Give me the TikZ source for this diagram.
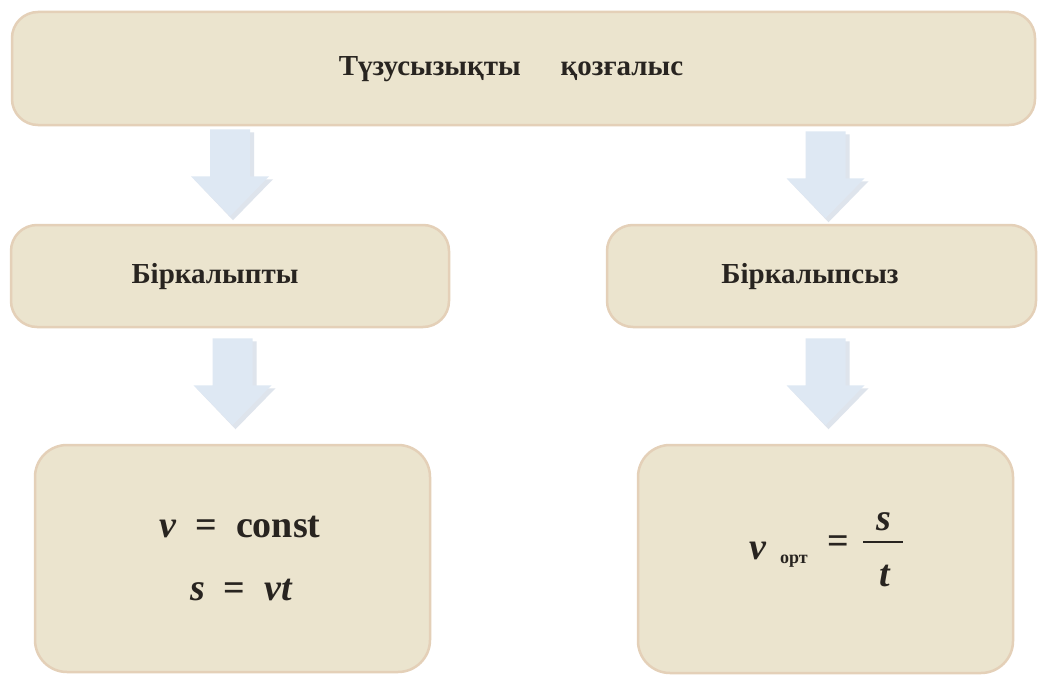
\documentclass[tikz,border=0pt]{standalone}
\usepackage{fontspec}
\setmainfont{Liberation Serif}
\usetikzlibrary{calc}
\definecolor{boxfill}{RGB}{235,228,206}
\definecolor{boxdraw}{RGB}{228,208,184}
\definecolor{arrowfill}{RGB}{222,232,243}
\definecolor{arrowshade}{RGB}{200,210,224}
\definecolor{txt}{RGB}{40,36,32}
\tikzset{
  box/.style={draw=boxdraw, line width=2.5pt, fill=boxfill, rounded corners=26pt, text=txt, inner sep=0pt},
  lbl/.style={font=\fontsize{29}{33}\selectfont\bfseries, text=txt},
  formula/.style={font=\fontsize{38}{44}\selectfont\bfseries, text=txt, inner sep=0pt},
  sub/.style={font=\fontsize{18}{20}\selectfont\bfseries, text=txt, inner sep=0pt},
  downarrow/.pic={
    \fill[arrowshade, opacity=0.6] (-17,3) -- (24,3) -- (24,50) -- (43,50) -- (3,91) -- (-36,50) -- (-17,50) -- cycle;
    \fill[arrowfill] (-20,0) -- (20,0) -- (20,47) -- (39,47) -- (0,87) -- (-39,47) -- (-20,47) -- cycle;
  }
}
\begin{document}
\begin{tikzpicture}[x=1pt, y=-1pt]
\useasboundingbox[fill=white] (0,0) rectangle (1038,677);
% boxes
\node[box, minimum width=1023pt, minimum height=113pt] (top) at (523.5,68.5) {};
\node[lbl] (toptext) at (511,69) {Түзусызықты\hspace{40pt}қозғалыс};
\node[box, minimum width=438pt, minimum height=102pt] (mL) at (230,276) {};
\node[lbl] (mLtext) at (215,277) {Біркалыпты};
\node[box, minimum width=429pt, minimum height=102pt] (mR) at (821.5,276) {};
\node[lbl] (mRtext) at (810,277) {Біркалыпсыз};
\node[box, rounded corners=32pt, minimum width=395pt, minimum height=227pt] (bL) at (232.5,558.5) {};
\node[box, rounded corners=32pt, minimum width=375pt, minimum height=228pt] (bR) at (825.5,559) {};
% arrows
\pic at ([yshift=-3pt]top.south -| mL.north) {downarrow};
\pic at ([yshift=-5pt]top.south -| bR.north) {downarrow};
\pic at ([yshift=-10pt]mL.south -| bL.north) {downarrow};
\pic at ([yshift=-10pt]mR.south -| bR.north) {downarrow};
% formulas left
\node[formula] (f1) at (240,527) {\itshape v\upshape\ \ =\ \ const};
\node[formula] (f2) at (241,590) {\itshape s\upshape\ \ =\ \ \itshape vt};
% formula right
\node[formula] (v) at (758,551) {\itshape v};
\node[sub] (ort) at (794,561) {орт};
\node[formula] (eq) at (838,545) {=};
\node[formula] (s) at (884,522) {\itshape s};
\node[formula] (t) at (885,576) {\itshape t};
\coordinate (mid) at (883,542);
\draw[txt, line width=2.5pt] ([xshift=-20pt]mid) -- ([xshift=20pt]mid);
\end{tikzpicture}
\end{document}
